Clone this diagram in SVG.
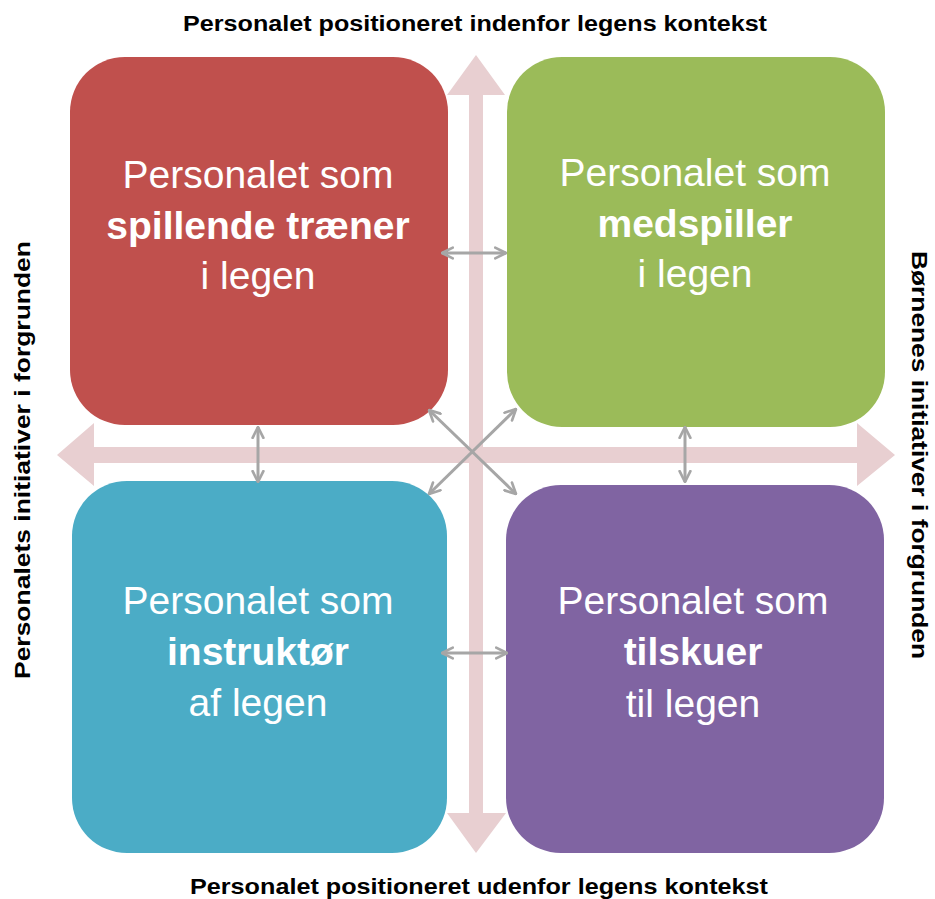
<svg xmlns="http://www.w3.org/2000/svg" width="935" height="899" viewBox="0 0 935 899">
<style>
.axis{fill:#E8CFD1}
.box text{font-family:"Liberation Sans",Arial,sans-serif;font-size:39px;fill:#fff;text-anchor:middle}
.box .b{font-weight:bold}
.lbl{font-family:"Liberation Sans",Arial,sans-serif;font-weight:bold;font-size:22px;fill:#000;text-anchor:middle}
.gc{stroke:#A6A6A6;stroke-width:3;fill:none;marker-start:url(#h);marker-end:url(#h)}
</style>
<defs>
<marker id="h" viewBox="0 0 10 10" refX="9" refY="5" markerWidth="4.5" markerHeight="4.5" orient="auto-start-reverse" markerUnits="strokeWidth">
<path d="M1,1 L9,5 L1,9" fill="none" stroke="#A6A6A6" stroke-width="2" stroke-linecap="round" stroke-linejoin="round"/>
</marker>
</defs>
<g id="axes">
<polygon class="axis" points="476,55 505,95 483,95 483,813 506,813 476,853 447,813 469,813 469,95 447,95"/>
<polygon class="axis" points="57,455 94,423 94,447 857,447 857,423 895,455 857,486 857,463 94,463 94,486"/>
</g>
<g id="red" class="box">
<rect x="70" y="57" width="378" height="368" rx="55" fill="#C0504D"/>
<text x="258" y="188">Personalet som</text>
<text x="258" y="239" class="b">spillende træner</text>
<text x="258" y="289">i legen</text>
</g>
<g id="green" class="box">
<rect x="507" y="57" width="378" height="370" rx="55" fill="#9BBB59"/>
<text x="695" y="186">Personalet som</text>
<text x="695" y="237" class="b">medspiller</text>
<text x="695" y="287">i legen</text>
</g>
<g id="teal" class="box">
<rect x="72" y="481" width="375" height="372" rx="55" fill="#4BACC6"/>
<text x="258" y="614">Personalet som</text>
<text x="258" y="665" class="b">instruktør</text>
<text x="258" y="716">af legen</text>
</g>
<g id="purple" class="box">
<rect x="506" y="485" width="378" height="368" rx="55" fill="#8064A2"/>
<text x="693" y="614">Personalet som</text>
<text x="693" y="665" class="b">tilskuer</text>
<text x="693" y="717">til legen</text>
</g>
<g id="connectors">
<line class="gc" x1="442" y1="253" x2="506" y2="253"/>
<line class="gc" x1="442" y1="653" x2="507" y2="653"/>
<line class="gc" x1="258" y1="427" x2="258" y2="482"/>
<line class="gc" x1="685" y1="427" x2="685" y2="482"/>
<line class="gc" x1="429" y1="410" x2="516" y2="494"/>
<line class="gc" x1="516" y1="409" x2="429" y2="494"/>
</g>
<g id="labels">
<text class="lbl" x="475" y="31" textLength="584" lengthAdjust="spacingAndGlyphs">Personalet positioneret indenfor legens kontekst</text>
<text class="lbl" x="479" y="894" textLength="578" lengthAdjust="spacingAndGlyphs">Personalet positioneret udenfor legens kontekst</text>
<text class="lbl" transform="translate(30,460) rotate(-90)" textLength="438" lengthAdjust="spacingAndGlyphs">Personalets initiativer i forgrunden</text>
<text class="lbl" transform="translate(912,455) rotate(90)" textLength="408" lengthAdjust="spacingAndGlyphs">Børnenes initiativer i forgrunden</text>
</g>
</svg>
